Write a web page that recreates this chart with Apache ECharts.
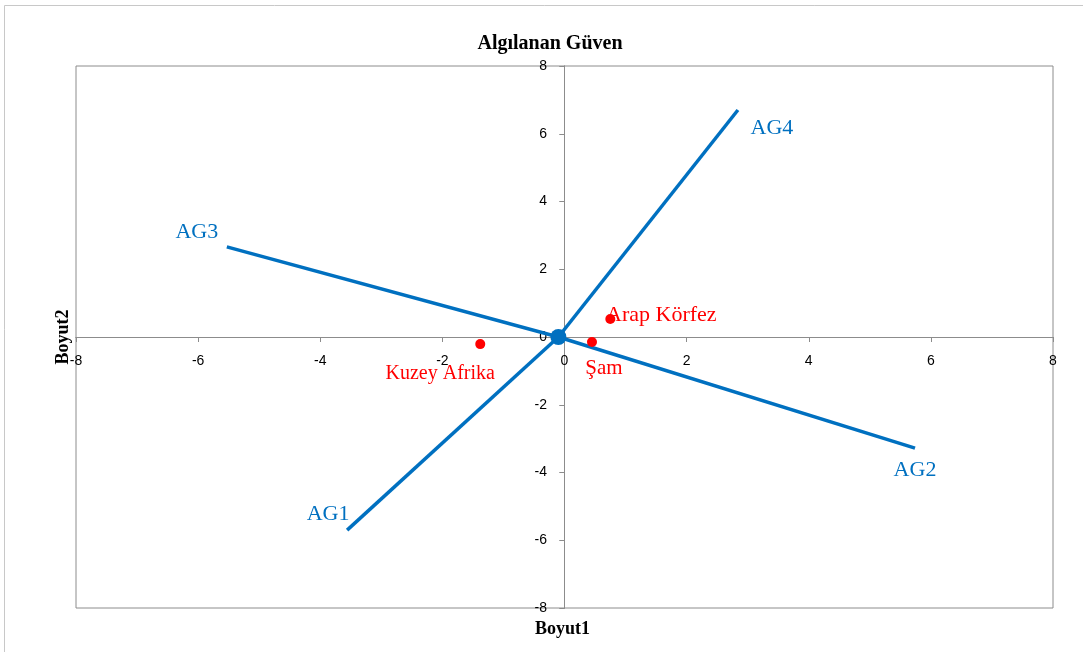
<!DOCTYPE html>
<html><head><meta charset="utf-8">
<script src="https://cdn.jsdelivr.net/npm/echarts@6/dist/echarts.min.js"></script>
<style>html,body{margin:0;padding:0;background:#fff}#c{width:1083px;height:652px}</style>
</head><body><div id="c"></div>
<script>
// Data
const origin = [-0.1, 0];
const vectorNames = ['AG1', 'AG2', 'AG3', 'AG4'];
const vectorX = [-3.56, 5.74, -5.53, 2.84];
const vectorY = [-5.70, -3.28, 2.66, 6.70];
const groupNames = ['Kuzey Afrika', 'Şam', 'Arap Körfez'];
const groupX = [-1.38, 0.45, 0.75];
const groupY = [-0.21, -0.15, 0.53];
const axisTicks = [-8, -6, -4, -2, 0, 2, 4, 6, 8];

// label offsets (px) and sizes
const vecOffsets = [[-19, -16], [0, 22], [-30, -15], [34, 18]];
const grpOffsets = [[-40, 30], [12, 26], [51, -4]];
const grpFontSizes = [20, 21, 22];

const BLUE = '#0070C0';
const serif = '"Liberation Serif","Times New Roman",serif';
const sans = '"Liberation Sans",Arial,sans-serif';

const series = [];
vectorNames.forEach((n, i) => {
  series.push({
    type: 'line', name: n, xAxisIndex: 0, yAxisIndex: 0,
    data: [origin, [vectorX[i], vectorY[i]]],
    symbol: 'none', lineStyle: { color: BLUE, width: 3.5 }, z: 3, animation: false
  });
});
series.push({
  type: 'scatter', name: 'vecLabels', xAxisIndex: 0, yAxisIndex: 0,
  data: vectorNames.map((n, i) => ({
    name: n, value: [vectorX[i], vectorY[i]],
    label: { offset: vecOffsets[i] }
  })),
  symbolSize: 1, itemStyle: { color: 'rgba(0,0,0,0)', opacity: 1 },
  label: { show: true, position: 'inside', formatter: '{b}', color: BLUE, fontFamily: serif, fontSize: 22 },
  animation: false, z: 4
});
series.push({
  type: 'scatter', name: 'origin', xAxisIndex: 0, yAxisIndex: 0,
  data: [origin], symbolSize: 16, itemStyle: { color: BLUE, opacity: 1 }, z: 5, animation: false
});
series.push({
  type: 'scatter', name: 'groups', xAxisIndex: 0, yAxisIndex: 0,
  data: groupNames.map((n, i) => ({
    name: n, value: [groupX[i], groupY[i]],
    label: { offset: grpOffsets[i], fontSize: grpFontSizes[i] }
  })),
  symbolSize: 10, itemStyle: { color: '#FF0000', opacity: 1 },
  label: { show: true, position: 'inside', formatter: '{b}', color: '#FF0000', fontFamily: serif, fontSize: 21 },
  z: 6, animation: false
});
// tick labels placed at the crossing axes
series.push({
  type: 'scatter', name: 'xTickLabels', xAxisIndex: 0, yAxisIndex: 0,
  data: axisTicks.map(t => ({ name: String(t), value: [t, 0] })),
  symbolSize: 1, itemStyle: { color: 'rgba(0,0,0,0)', opacity: 1 }, silent: true,
  label: { show: true, position: 'bottom', distance: 17, formatter: '{b}', color: '#000', fontFamily: sans, fontSize: 14 },
  z: 2, animation: false
});
series.push({
  type: 'scatter', name: 'yTickLabels', xAxisIndex: 0, yAxisIndex: 0,
  data: axisTicks.map(t => ({ name: String(t), value: [0, t] })),
  symbolSize: 1, itemStyle: { color: 'rgba(0,0,0,0)', opacity: 1 }, silent: true,
  label: { show: true, position: 'left', distance: 17, formatter: '{b}', color: '#000', fontFamily: sans, fontSize: 14 },
  z: 2, animation: false
});

const lineStyleAxis = { color: '#8c8c8c', width: 1 };

function mkAxis(idx, inside) {
  return {
    type: 'value', min: -8, max: 8, interval: 2,
    axisLine: { onZero: true, onZeroAxisIndex: idx, lineStyle: lineStyleAxis },
    splitLine: { show: false },
    axisTick: { show: true, inside: inside, length: 5, lineStyle: { color: '#8c8c8c' } },
    axisLabel: { show: false }
  };
}

const option = {
  backgroundColor: '#fff',
  animation: false,
  title: {
    text: 'Algılanan Güven', left: 545, top: 29, textAlign: 'center',
    textStyle: { fontFamily: serif, fontWeight: 'bold', fontSize: 20, color: '#000' }
  },
  grid: { left: 76, right: 30, top: 66, bottom: 44, show: true, borderColor: '#8c8c8c', borderWidth: 1 },
  xAxis: [mkAxis(0, false), mkAxis(1, true)],
  yAxis: [mkAxis(0, false), mkAxis(1, true)],
  graphic: [
    { type: 'rect', shape: { x: 4.5, y: 5.5, width: 1100, height: 700 }, style: { fill: 'none', stroke: '#c8c8c8', lineWidth: 1 }, silent: true },
    { type: 'text', left: 535, top: 620, style: { text: 'Boyut1', font: 'bold 18px ' + serif, fill: '#000' } },
    { type: 'text', x: 63, y: 337, rotation: Math.PI / 2, style: { text: 'Boyut2', font: 'bold 18px ' + serif, fill: '#000', textAlign: 'center', textVerticalAlign: 'middle' } }
  ],
  series: series
};

const chart = echarts.init(document.getElementById('c'), null, { renderer: 'canvas' });
chart.setOption(option);
</script></body></html>
